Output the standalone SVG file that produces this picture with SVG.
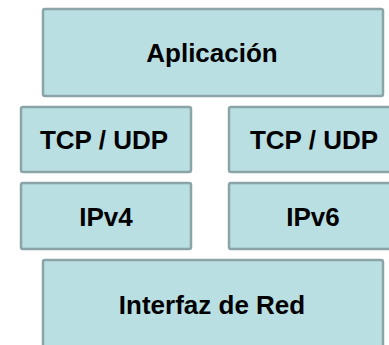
<svg xmlns="http://www.w3.org/2000/svg" width="389" height="345" viewBox="0 0 389 345">
<style>
.box{fill:#b9dfe2;stroke:#8ba4a7;stroke-width:2.5}
.lbl{font-family:"Liberation Sans",Arial,sans-serif;font-weight:bold;fill:#000;text-anchor:middle;font-size:26px}
</style>
<rect width="389" height="345" fill="#fff"/>
<g id="aplicacion"><rect class="box" x="43" y="9" width="340" height="87" rx="2"/><text class="lbl" x="212" y="62">Aplicación</text></g>
<g id="tcp1"><rect class="box" x="21" y="107" width="170" height="65" rx="2"/><text class="lbl" x="104" y="149">TCP / UDP</text></g>
<g id="tcp2"><rect class="box" x="229" y="107" width="180" height="65" rx="2"/><text class="lbl" x="314" y="149">TCP / UDP</text></g>
<g id="ipv4"><rect class="box" x="21" y="183" width="170" height="66" rx="2"/><text class="lbl" x="106" y="226">IPv4</text></g>
<g id="ipv6"><rect class="box" x="229" y="183" width="180" height="66" rx="2"/><text class="lbl" x="313" y="226">IPv6</text></g>
<g id="interfaz"><rect class="box" x="43" y="260" width="340" height="100" rx="2"/><text class="lbl" x="212" y="314">Interfaz de Red</text></g>
<g id="connectors"></g>
</svg>
